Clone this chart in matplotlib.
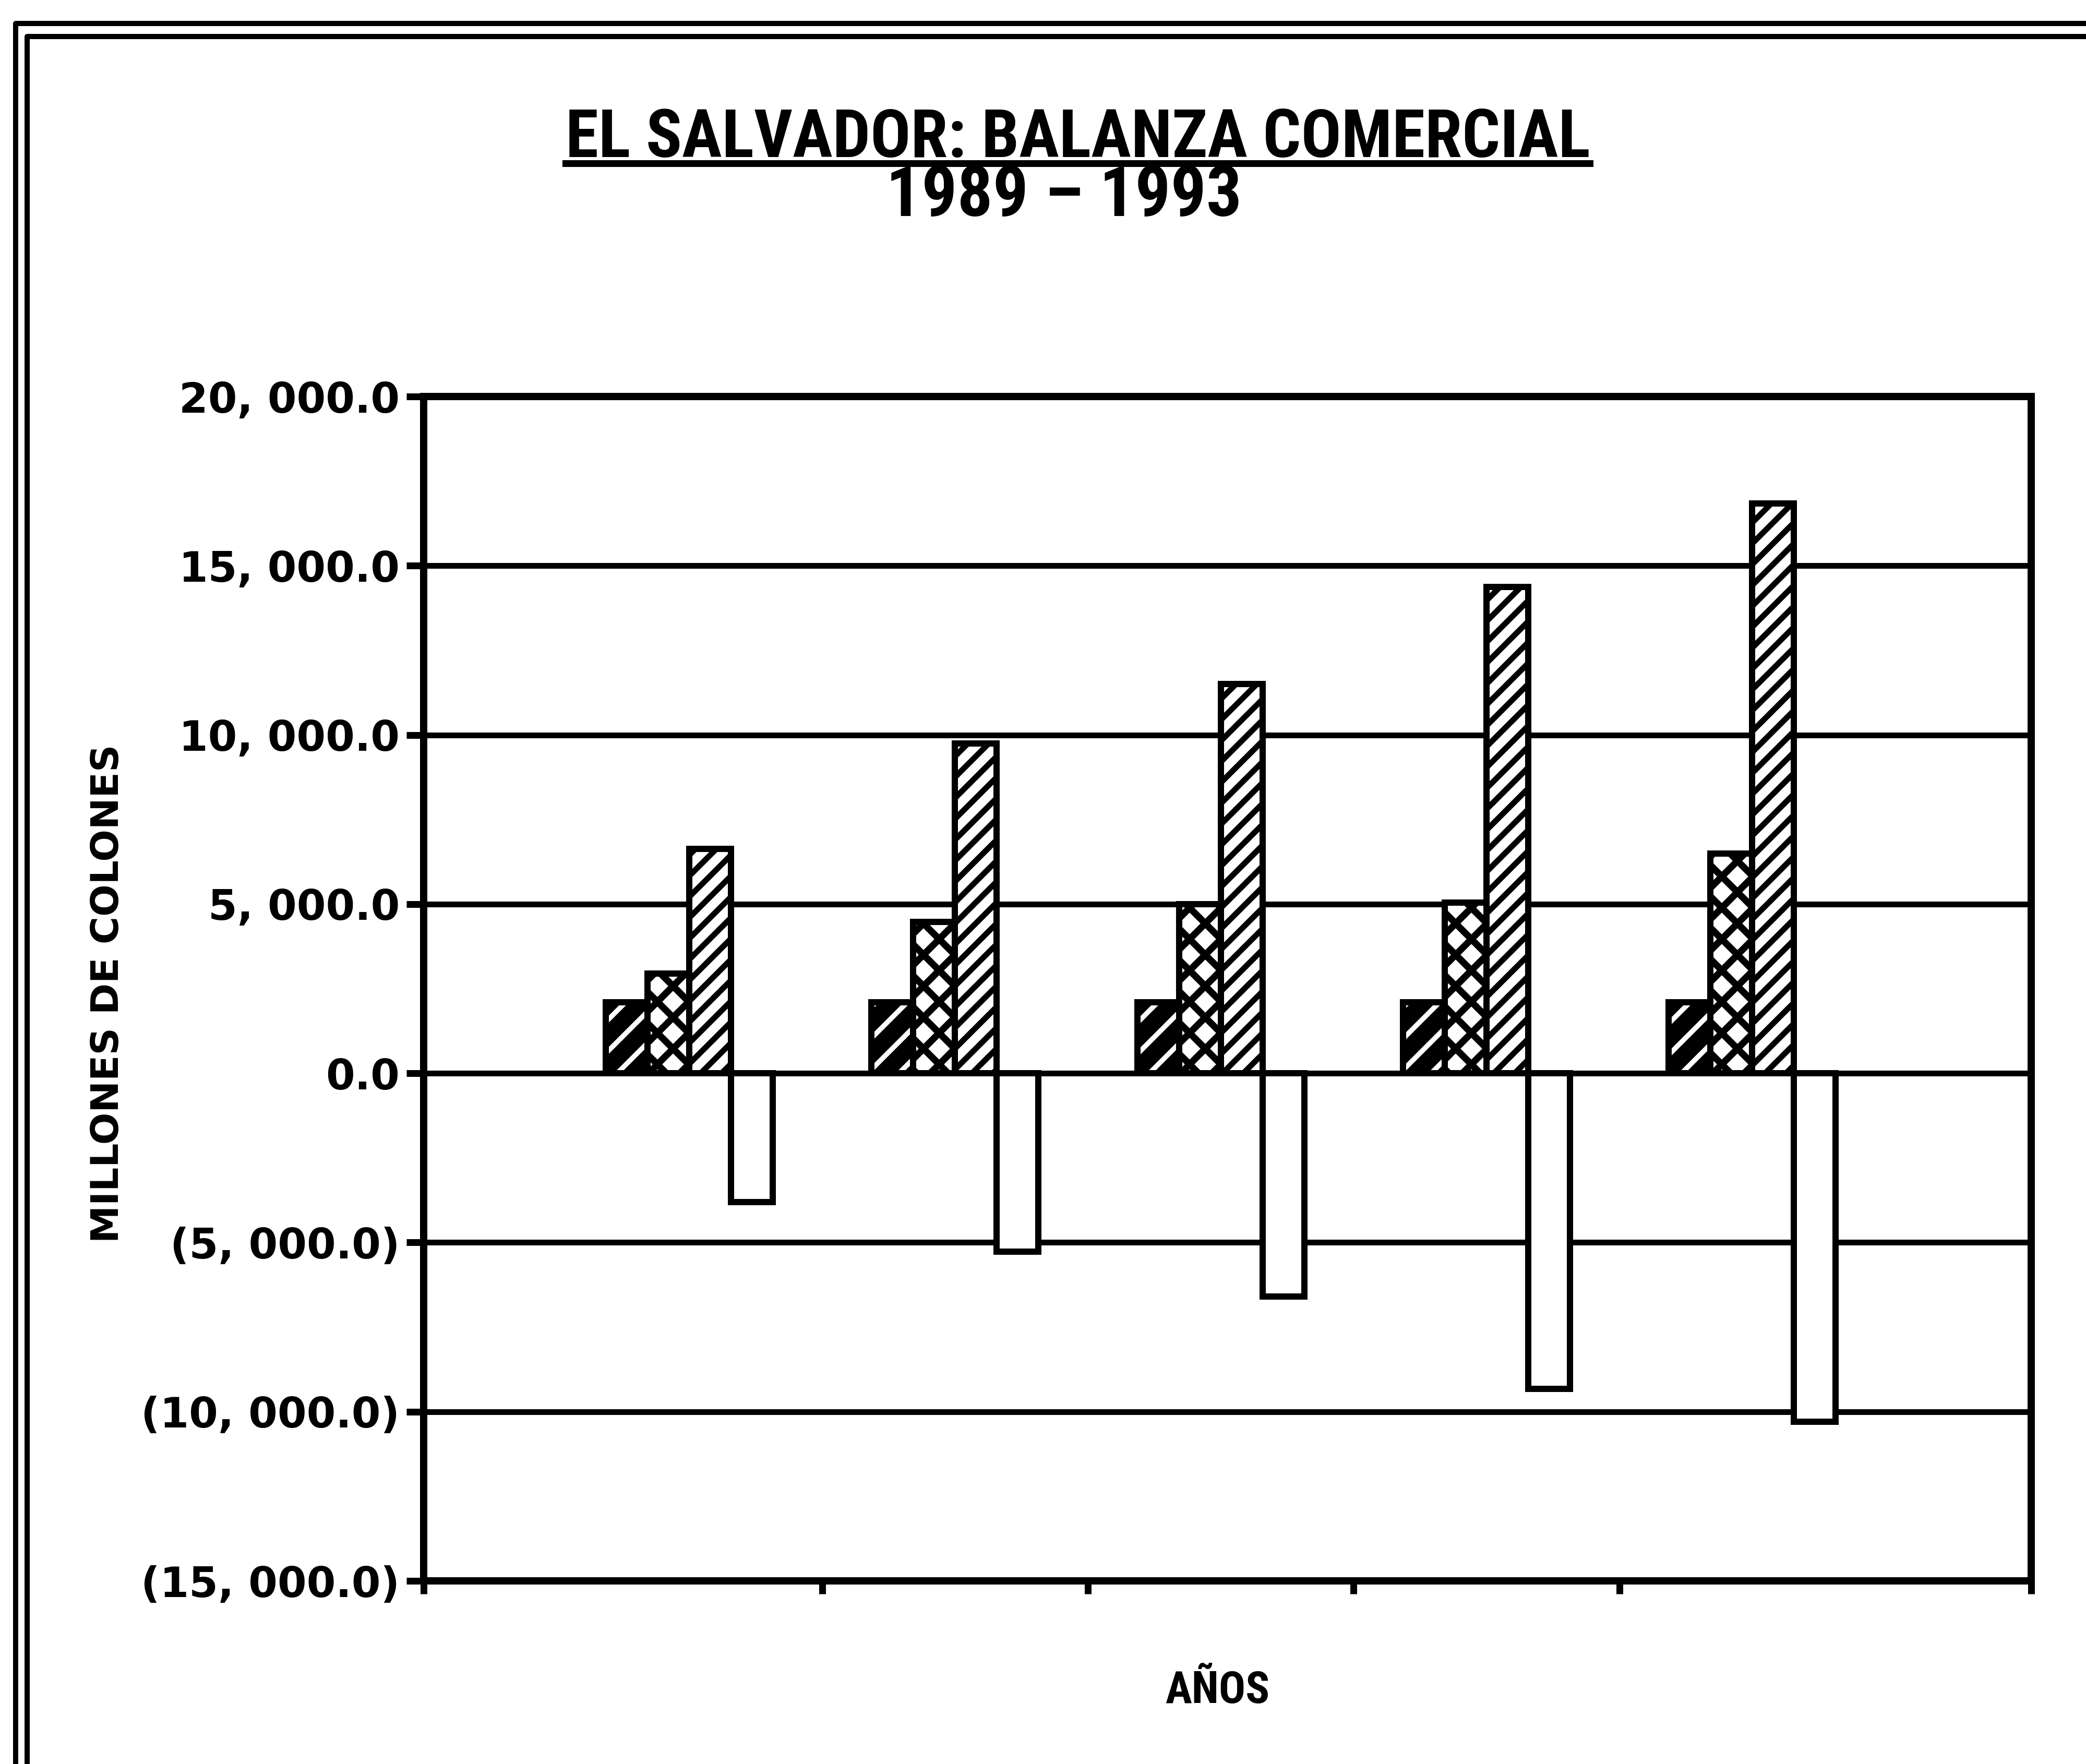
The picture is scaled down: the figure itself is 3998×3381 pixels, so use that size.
import numpy as np
import matplotlib
matplotlib.use('Agg')
import matplotlib.pyplot as plt
from matplotlib.lines import Line2D
from matplotlib import font_manager

# datos (millones de colones)
years = ['1989', '1990', '1991', '1992', '1993']
serie_1 = [2100, 2100, 2100, 2100, 2100]
exportaciones = [2950, 4480, 5000, 5050, 6500]
importaciones = [6640, 9750, 11500, 14380, 16840]
balanza = [-3800, -5270, -6600, -9330, -10300]
y_ticks = [-15000, -10000, -5000, 0, 5000, 10000, 15000, 20000]

DPI = 360


def wnum(wt):
    if isinstance(wt, (int, float)):
        return wt
    return font_manager.weight_dict.get(wt, 400)


# fuente estrecha en negrita, si existe alguna
bold_narrow = sorted({f.name for f in font_manager.fontManager.ttflist
                      if ('Narrow' in f.name or 'Condensed' in f.name)
                      and wnum(f.weight) >= 700})
pref = ['Liberation Sans Narrow', 'Roboto Condensed', 'Open Sans Condensed']
narrow = next((p for p in pref if p in bold_narrow),
              bold_narrow[0] if bold_narrow else 'DejaVu Sans')


def fmt(v):
    s = f"{abs(v):,.1f}".replace(',', ', ')
    return f"({s})" if v < 0 else s


def bars(ax, x, vals, hlw=None, **kw):
    with plt.rc_context({'hatch.linewidth': hlw} if hlw else {}):
        b = ax.bar(x, vals, width=w, **kw)
    if hlw and hasattr(b[0], 'set_hatch_linewidth'):
        for p in b:
            p.set_hatch_linewidth(hlw)
    return b


fig = plt.figure(figsize=(3999 / DPI, 3381 / DPI), dpi=DPI)
ax = fig.add_axes([0.203, 0.1038, 0.7705, 0.6714])

x = np.arange(len(years))
w = 0.157
lw = 2.4

# serie 1: negro con franjas blancas
bars(ax, x - 1.5 * w, serie_1, 1.9,
     facecolor='black', edgecolor='white', hatch='//', linewidth=0, zorder=3)
ax.bar(x - 1.5 * w, serie_1, width=w, facecolor='none', edgecolor='black',
       linewidth=lw, zorder=4)
bars(ax, x - 0.5 * w, exportaciones, 2.6,
     facecolor='white', edgecolor='black', hatch='xx', linewidth=lw, zorder=3)
bars(ax, x + 0.5 * w, importaciones, 2.2,
     facecolor='white', edgecolor='black', hatch='///', linewidth=lw, zorder=3)
ax.bar(x + 1.5 * w, balanza, width=w, facecolor='white', edgecolor='black',
       linewidth=lw, zorder=3)

ax.set_xlim(-1.0, 5.05)
ax.set_ylim(-15000, 20000)
ax.set_yticks(y_ticks)
ax.set_yticklabels([fmt(v) for v in y_ticks], fontsize=16, fontweight='bold',
                   family='DejaVu Sans')
ax.set_xticks([-1.0, 0.5, 1.5, 2.5, 3.5, 5.05])
ax.set_xticklabels([])
ax.tick_params(axis='y', direction='out', length=6.6, width=2.6, pad=2.5)
ax.tick_params(axis='x', direction='out', length=5, width=2.6)
ax.grid(axis='y', color='black', linewidth=2.2)
ax.set_axisbelow(True)
for s in ax.spines.values():
    s.set_linewidth(2.8)

ax.set_ylabel('MILLONES DE COLONES', fontsize=14.5, fontweight='bold',
              family='DejaVu Sans')
ax.yaxis.set_label_coords(0.0606, 0.4366, transform=fig.transFigure)

# textos de titulo y eje x, ajustados al ancho del original
t_anos = fig.text(0.5834, 0.0346, 'AÑOS', ha='center', va='baseline',
                  fontsize=17, fontweight='heavy', family=narrow,
                  fontstretch='condensed')
t1 = fig.text(0.5166, 0.911, 'EL SALVADOR: BALANZA COMERCIAL', ha='center',
              va='baseline', fontsize=27, fontweight='heavy', family=narrow,
              fontstretch='condensed')
t2 = fig.text(0.510, 0.8775, '1989 – 1993', ha='center', va='baseline',
              fontsize=27, fontweight='heavy', family=narrow,
              fontstretch='condensed')
fig.canvas.draw()
for t, target in [(t1, 1964), (t2, 740), (t_anos, 217)]:
    width = t.get_window_extent().width
    if width > target:
        t.set_fontsize(t.get_fontsize() * target / width)

fig.add_artist(Line2D([0.271, 0.762], [0.9075, 0.9075], color='black',
                      linewidth=2.6, transform=fig.transFigure))

# marco doble
for xf, yf in [(0.0075, 0.9867), (0.013, 0.9793)]:
    fig.add_artist(Line2D([xf, xf, 1.0], [0.0, yf, yf], color='black',
                          linewidth=2.0, transform=fig.transFigure))

fig.savefig('out.png', dpi=DPI, facecolor='white')
